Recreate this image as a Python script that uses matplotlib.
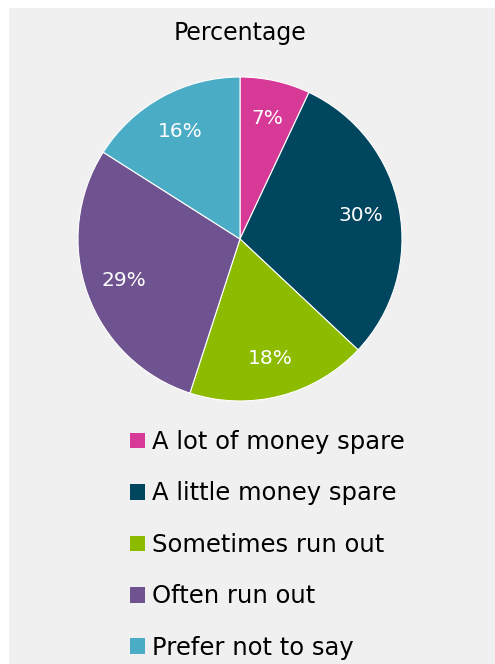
import matplotlib.pyplot as plt
from matplotlib.patches import Rectangle, Patch

labels = ['A lot of money spare', 'A little money spare', 'Sometimes run out',
          'Often run out', 'Prefer not to say']
values = [7, 30, 18, 29, 16]
colors = ['#D63A96', '#00465F', '#8CBB00', '#6F5390', '#4BACC6']

W, H = 495, 664
fig = plt.figure(figsize=(W / 100, H / 100), dpi=100, facecolor='white')

# grey chart area
fig.patches.append(Rectangle((9 / W, 0), 1 - 9 / W, 1 - 8 / H, transform=fig.transFigure,
                             facecolor='#F0F0F0', edgecolor='none', zorder=-1))

fig.text(240 / W, 1 - 33 / H, 'Percentage', ha='center', va='center', fontsize=17, color='black')

cx, cy, r = 240, 239, 162
ax = fig.add_axes([(cx - r) / W, 1 - (cy + r) / H, 2 * r / W, 2 * r / H])
wedges, texts, autotexts = ax.pie(values, colors=colors, startangle=90, counterclock=False,
                                  autopct='%1.0f%%', pctdistance=0.76,
                                  wedgeprops=dict(edgecolor='white', linewidth=0.8),
                                  textprops=dict(color='white', fontsize=14.5))
ax.set_xlim(-1, 1)
ax.set_ylim(-1, 1)
ax.set_aspect('equal')

handles = [Patch(facecolor=c, edgecolor='none') for c in colors]
fig.legend(handles, labels, loc='upper left', bbox_to_anchor=(130 / W, 1 - 430 / H),
           frameon=False, fontsize=17.5, handlelength=0.62, handleheight=0.62,
           handletextpad=0.3, labelspacing=1.13, borderpad=0, borderaxespad=0)

fig.savefig('out.png', dpi=100, facecolor=fig.get_facecolor())
